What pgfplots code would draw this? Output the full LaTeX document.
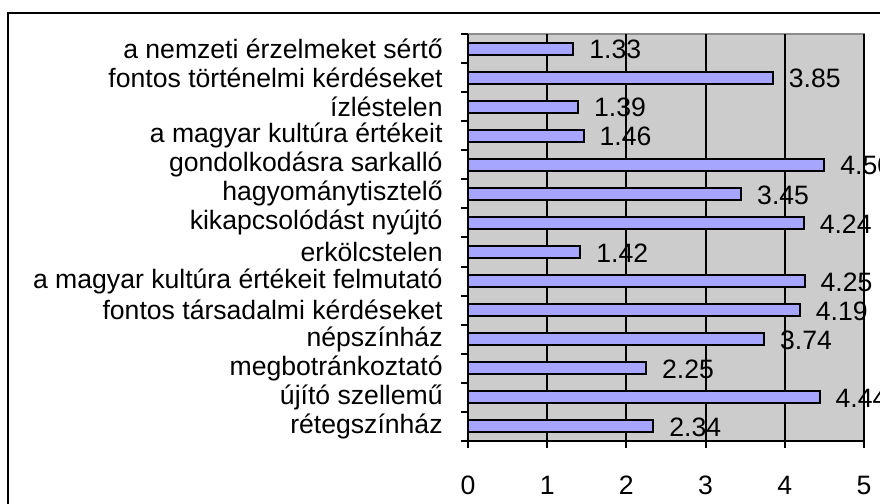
\documentclass[border=0pt]{standalone}
\usepackage{fontspec}
\setmainfont{Liberation Sans}
\usepackage{pgfplots}
\pgfplotsset{compat=1.18}

\definecolor{plotbg}{HTML}{CCCCCC}
\definecolor{plotedge}{HTML}{8C8C8C}
\definecolor{barfill}{HTML}{A6A6FF}
\newcommand{\lab}{\fontsize{13.3}{16}\selectfont}

\begin{document}
\begin{tikzpicture}
\useasboundingbox (0,0) rectangle (440pt,252pt);
\clip (0,0) rectangle (440pt,252pt);
% chart frame, cut off at right and bottom
\draw[line width=1pt] (4pt,-10pt) -- (4pt,245.5pt) -- (450pt,245.5pt);
\begin{axis}[
    at={(234pt,31.5pt)}, anchor=south west,
    scale only axis,
    width=198pt, height=203.5pt,
    xmin=0, xmax=5,
    ymin=-0.5, ymax=13.5,
    axis background/.style={fill=plotbg, draw=plotedge, line width=1pt},
    axis x line*=bottom, axis y line*=left,
    axis line style={black, line width=1pt},
    tick align=outside,
    major tick length=3.5pt,
    tick style={black, line width=1pt},
    xtick={0,...,5},
    xmajorgrids=true,
    grid style={black, line width=1pt},
    xticklabel style={font=\lab, inner sep=0pt, yshift=-14pt},
    ytick={-0.5,0.5,...,13.5},
    yticklabel={\relax},
    extra y ticks={0,...,13},
    extra y tick labels={rétegszínház, újító szellemű, megbotránkoztató, népszínház,
        fontos társadalmi kérdéseket, a magyar kultúra értékeit felmutató, erkölcstelen,
        kikapcsolódást nyújtó, hagyománytisztelő, gondolkodásra sarkalló,
        a magyar kultúra értékeit, ízléstelen, fontos történelmi kérdéseket,
        a nemzeti érzelmeket sértő},
    extra y tick style={major tick length=0pt,
        tick label style={font=\lab, inner sep=0pt, xshift=-12.5pt}},
    /pgf/number format/assume math mode=true,
    clip=false,
]
\addplot[
    xbar, bar width=6pt, bar shift=0pt,
    fill=barfill, draw=black, line width=1pt,
    point meta=x,
    nodes near coords={\pgfmathprintnumber[fixed,precision=2,zerofill]{\pgfplotspointmeta}},
    nodes near coords style={anchor=west, inner sep=0pt, xshift=7.5pt, yshift=-0.5pt, font=\lab},
] coordinates {
    (2.34,0) (4.44,1) (2.25,2) (3.74,3) (4.19,4) (4.25,5) (1.42,6)
    (4.24,7) (3.45,8) (4.50,9) (1.46,10) (1.39,11) (3.85,12) (1.33,13)
};
\end{axis}
\end{tikzpicture}
\end{document}
